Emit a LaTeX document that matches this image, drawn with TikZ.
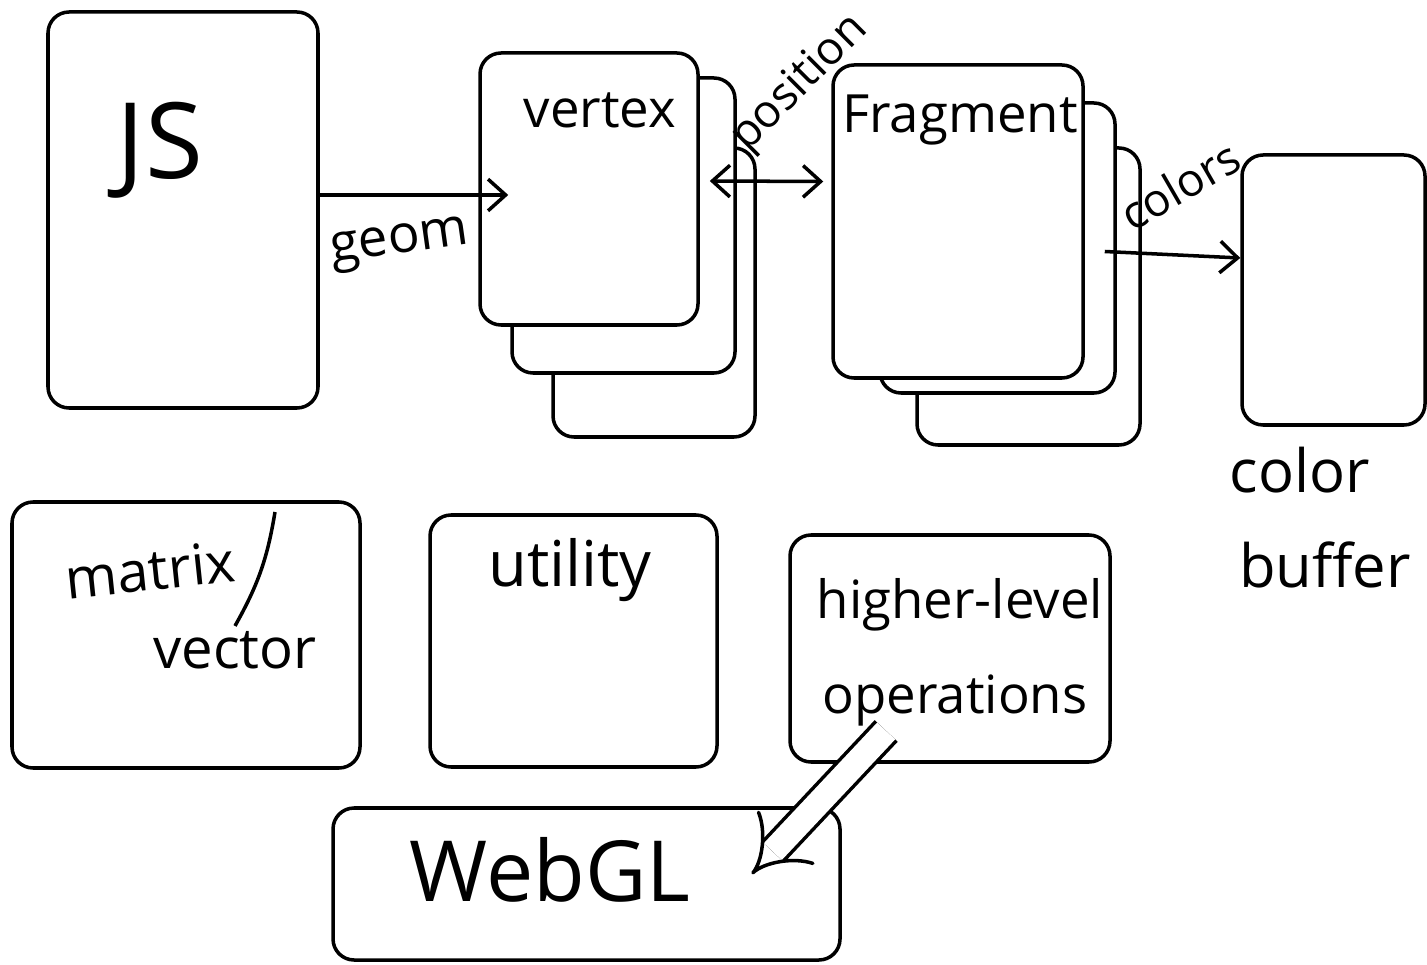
\documentclass[tikz,border=0pt]{standalone}
\usepackage{fontspec}
\setmainfont{Open Sans}
\usepackage{tikz}
\usetikzlibrary{arrows.meta, positioning, calc}

\begin{document}
\begin{tikzpicture}[line width=1pt,
    box/.style={draw, rounded corners=6pt, fill=white, inner sep=0pt},
    lbl/.style={inner sep=1pt, font=\fontsize{#1}{#1}\selectfont},
    lbl/.default=16pt,
    flow/.style={-{Straight Barb[length=5pt, width=9pt]}}]
    \useasboundingbox (0,0) rectangle (14.27,9.64);
    % JS side
    \node[box, minimum width=2.7cm, minimum height=3.96cm] (js) at (1.83,7.54) {};
    \node[lbl=30pt] (jsl) at (1.6,8.14) {JS};
    % Vertex shaders (stacked)
    \node[box, minimum width=2.02cm, minimum height=2.89cm] (vertC) at (6.54,6.715) {};
    \node[box, minimum width=2.23cm, minimum height=2.95cm] (vertB) at (6.235,7.385) {};
    \node[box, minimum width=2.18cm, minimum height=2.72cm] (vert) at (5.89,7.75) {};
    \node[lbl=15pt] (vertl) at (6.0,8.54) {vertex};
    % Fragment shaders (stacked)
    \node[box, minimum width=2.23cm, minimum height=2.97cm] (fragC) at (10.285,6.675) {};
    \node[box, minimum width=2.35cm, minimum height=2.9cm] (fragB) at (9.975,7.16) {};
    \node[box, minimum width=2.5cm, minimum height=3.13cm] (frag) at (9.58,7.425) {};
    \node[lbl=15pt] (fragl) at (9.6,8.44) {Fragment};
    % Color buffer
    \node[box, minimum width=1.83cm, minimum height=2.7cm] (cbuf) at (13.335,6.74) {};
    \node[lbl=17pt] (cbufa) at (13.0,4.94) {color};
    \node[lbl=17pt] (cbufb) at (13.25,3.99) {buffer};
    % Library boxes
    \node[box, minimum width=3.48cm, minimum height=2.66cm] (matvec) at (1.86,3.29) {};
    \node[lbl=16pt, rotate=6] (matl) at (1.5,3.94) {matrix};
    \node[lbl=16pt] (vecl) at (2.35,3.14) {vector};
    \draw (2.75,4.52) to[bend left=10] (vecl.north);
    \node[box, minimum width=2.87cm, minimum height=2.52cm] (util) at (5.735,3.23) {};
    \node[lbl=18pt] (utill) at (5.7,3.94) {utility};
    \node[box, minimum width=3.2cm, minimum height=2.27cm] (hlops) at (9.5,3.155) {};
    \node[lbl=15pt] (hll) at (9.6,3.59) {higher-level};
    \node[lbl=15pt] (opsl) at (9.55,2.64) {operations};
    \node[box, minimum width=5.07cm, minimum height=1.52cm] (webgl) at (5.865,0.8) {};
    \node[lbl=24pt] (webgll) at (5.5,0.94) {WebGL};
    % Data flow
    \draw[flow] ([yshift=1.5mm]js.east) -- ([xshift=3mm,yshift=-0.6mm]vert.west);
    \node[lbl=15pt, rotate=8] (geoml) at (4.0,7.19) {geom};
    \draw[{Straight Barb[length=5pt, width=9pt]}-{Straight Barb[length=5pt, width=9pt]}] ([xshift=1mm,yshift=0.8mm]vert.east) -- ([xshift=-0.8mm,yshift=4mm]frag.west);
    \node[lbl=13pt, rotate=45] (posl) at (8.0,8.8) {position};
    \draw[flow] ([xshift=2mm,yshift=-3mm]frag.east) -- ([yshift=3.2mm]cbuf.west);
    \node[lbl=13pt, rotate=30] (coll) at (11.8,7.79) {colors};
    % Built on WebGL
    \draw[double, double distance=7pt, -{Implies}] ($(opsl.south west)!0.25!(opsl.south east)$) -- ([xshift=-0.9cm,yshift=1mm]webgl.east);
\end{tikzpicture}
\end{document}
